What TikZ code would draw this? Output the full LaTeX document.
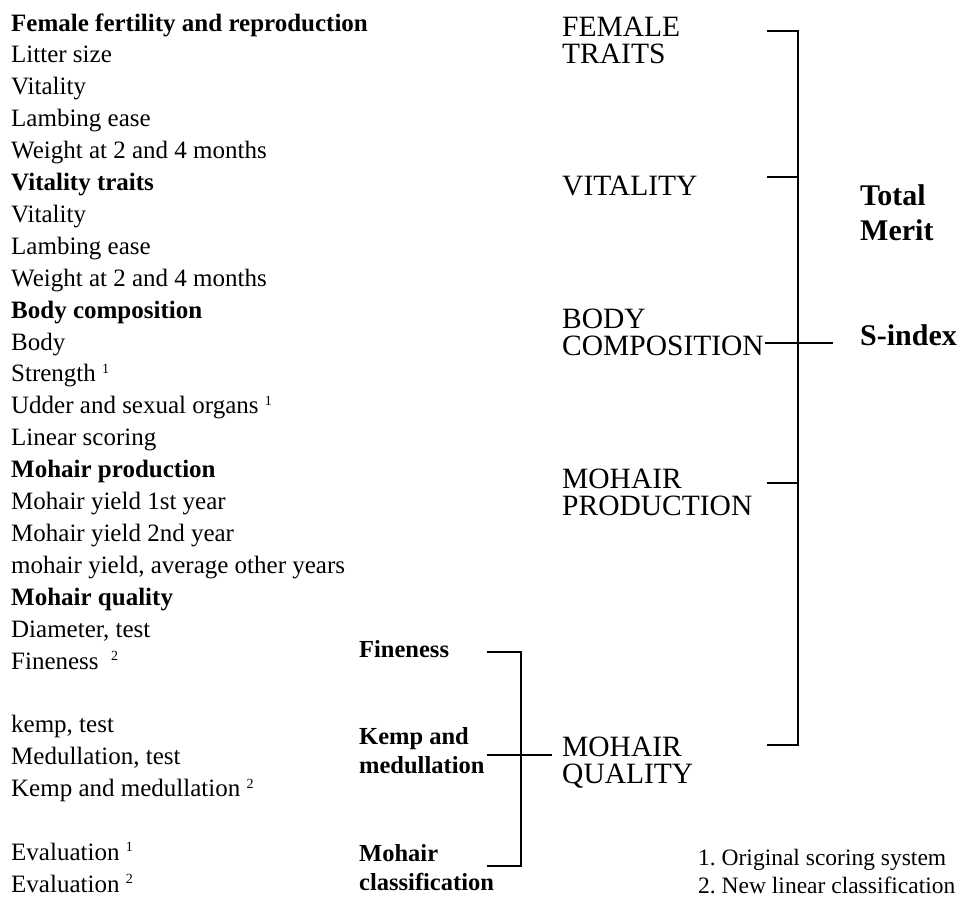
\documentclass[tikz,border=0pt]{standalone}
\usepackage{fontspec}
\setmainfont{Liberation Serif}
\newcommand{\supmark}[1]{\raisebox{8.5pt}{\fontsize{14}{14}\selectfont #1}}
\begin{document}
\begin{tikzpicture}[x=1pt, y=-1pt,
    item/.style={anchor=base west, inner sep=0pt, font=\fontsize{25}{30}\selectfont},
    head/.style={item, font=\fontsize{25}{30}\selectfont\bfseries},
    trait/.style={anchor=base west, inner sep=0pt, align=left, font=\fontsize{29.5}{27}\selectfont},
    index/.style={anchor=base west, inner sep=0pt, align=left, font=\fontsize{30}{35}\selectfont\bfseries},
    sub/.style={anchor=base west, inner sep=0pt, align=left, font=\fontsize{24.5}{29}\selectfont\bfseries},
    note/.style={anchor=base west, inner sep=0pt, font=\fontsize{23.5}{28}\selectfont},
    bracket/.style={line width=1.6pt}]
    \useasboundingbox (0,0) rectangle (962,898);
    % trait list
    \node[head] (h1) at (11,31) {Female fertility and reproduction};
    \node[item] (a1) at (11,62.9) {Litter size};
    \node[item] (a2) at (11,94.8) {Vitality};
    \node[item] (a3) at (11,126.7) {Lambing ease};
    \node[item] (a4) at (11,158.6) {Weight at 2 and 4 months};
    \node[head] (h2) at (11,190.5) {Vitality traits};
    \node[item] (b1) at (11,222.4) {Vitality};
    \node[item] (b2) at (11,254.3) {Lambing ease};
    \node[item] (b3) at (11,286.2) {Weight at 2 and 4 months};
    \node[head] (h3) at (11,318.1) {Body composition};
    \node[item] (c1) at (11,350) {Body};
    \node[item] (c2) at (11,381.9) {Strength \supmark{1}};
    \node[item] (c3) at (11,413.8) {Udder and sexual organs \supmark{1}};
    \node[item] (c4) at (11,445.7) {Linear scoring};
    \node[head] (h4) at (11,477.6) {Mohair production};
    \node[item] (d1) at (11,509.5) {Mohair yield 1st year};
    \node[item] (d2) at (11,541.4) {Mohair yield 2nd year};
    \node[item] (d3) at (11,573.3) {mohair yield, average other years};
    \node[head] (h5) at (11,605.2) {Mohair quality};
    \node[item] (e1) at (11,637.1) {Diameter, test};
    \node[item] (e2) at (11,669) {Fineness\ \ \supmark{2}};
    \node[item] (e3) at (11,732.8) {kemp, test};
    \node[item] (e4) at (11,764.7) {Medullation,\ test};
    \node[item] (e5) at (11,796.6) {Kemp and medullation \supmark{2}};
    \node[item] (e6) at (11,860.4) {Evaluation \supmark{1}};
    \node[item] (e7) at (11,892.3) {Evaluation \supmark{2}};
    % quality groups (base = last line)
    \node[sub] (fine) at (359,657) {Fineness};
    \node[sub] (kemp) at (359,773) {Kemp and\\medullation};
    \node[sub] (class) at (359,890) {Mohair\\classification};
    % trait groups
    \node[trait] (female) at (562,63) {FEMALE\\TRAITS};
    \node[trait] (vital) at (562,195) {VITALITY};
    \node[trait] (body) at (562,355) {BODY\\COMPOSITION};
    \node[trait] (prod) at (562,515) {MOHAIR\\PRODUCTION};
    \node[trait] (qual) at (562,783) {MOHAIR\\QUALITY};
    \node[index] (total) at (860,240) {Total\\Merit};
    \node[index] (sindex) at (860,345) {S-index};
    % footnotes
    \node[note] (n1) at (698,865) {1.\ Original scoring system};
    \node[note] (n2) at (698,893) {2.\ New linear classification};
    % big bracket
    \coordinate (mF) at (767,31);
    \coordinate (mV) at (767,177);
    \coordinate (mB) at (765,343);
    \coordinate (mP) at (767,483);
    \coordinate (mQ) at (767,745);
    \coordinate (jT) at (798,31);
    \coordinate (jB) at (798,745);
    \coordinate (sI) at (833,343);
    \draw[bracket] (mF) -- (jT) -- (jB) -- (mQ);
    \draw[bracket] (mV) -- (mV -| jT);
    \draw[bracket] (mP) -- (mP -| jT);
    \draw[bracket] (mB) -- (sI);
    % small bracket
    \coordinate (lF) at (487,652);
    \coordinate (lC) at (487,866);
    \coordinate (lK) at (487,755);
    \coordinate (lT) at (521,652);
    \coordinate (lB) at (521,866);
    \coordinate (lQ) at (552,755);
    \draw[bracket] (lF) -- (lT) -- (lB) -- (lC);
    \draw[bracket] (lK) -- (lQ);
\end{tikzpicture}
\end{document}
